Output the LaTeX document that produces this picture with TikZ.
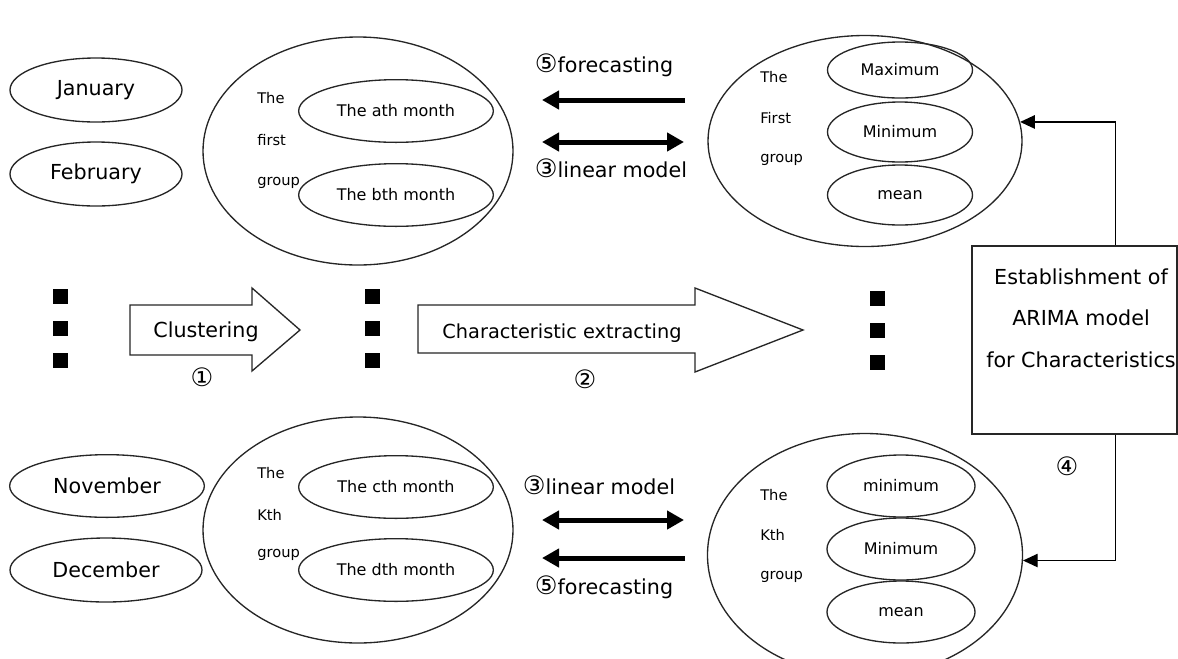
\documentclass[tikz,border=0pt]{standalone}
\usepackage{fontspec}
\setmainfont{DejaVu Sans}
\usetikzlibrary{shapes.geometric,arrows.meta,calc}
\newcommand{\circnum}[1]{{\fontsize{19}{18}\selectfont #1}}
\begin{document}
\begin{tikzpicture}[x=0.75pt,y=-0.75pt,
  oval/.style={ellipse,draw=black!85,line width=1pt,inner sep=0pt},
  month/.style={oval,font=\fontsize{15.5}{18}\selectfont},
  inner/.style={oval,font=\fontsize{12}{14}\selectfont},
  small/.style={font=\fontsize{11}{13}\selectfont,anchor=west,inner sep=0pt},
  lab/.style={font=\fontsize{15.5}{18}\selectfont,inner sep=0pt},
  num/.style={font=\fontsize{19}{18}\selectfont,inner sep=0pt},
  dot/.style={fill=black,minimum size=11.25pt,inner sep=0pt},
  bigarrow/.style={draw=black!85,line width=1pt,fill=white},
  fat/.style={line width=3.75pt,-{Triangle[length=12.75pt,width=13.5pt]}},
  fatboth/.style={line width=3.75pt,{Triangle[length=12.75pt,width=13.5pt]}-{Triangle[length=12.75pt,width=13.5pt]}},
  conn/.style={line width=1pt,-{Triangle[length=11pt,width=10pt]}}
]
\useasboundingbox (0,0) rectangle (1178,658);

% months
\node[month,minimum width=129pt,minimum height=48pt] (jan) at (96,90) {January};
\node[month,minimum width=129pt,minimum height=48pt] (feb) at (96,174) {February};
\node[month,minimum width=146pt,minimum height=47pt] (nov) at (107,486) {November};
\node[month,minimum width=144pt,minimum height=48pt] (dec) at (106,570) {December};

% dots
\node[dot] (la) at (60,296) {};
\node[dot] (lb) at (60,328) {};
\node[dot] (lc) at (60,360) {};
\node[dot] (ma) at (372,296) {};
\node[dot] (mb) at (372,328) {};
\node[dot] (mc) at (372,360) {};
\node[dot] (ra) at (877,298) {};
\node[dot] (rb) at (877,330) {};
\node[dot] (rc) at (877,362) {};

% groups (left)
\node[oval,minimum width=232.5pt,minimum height=171pt] (G1) at (358,151) {};
\node[oval,minimum width=232.5pt,minimum height=169.5pt] (G2) at (358,530) {};
\node[inner,minimum width=146pt,minimum height=47pt] (ath) at (396,111) {The ath month};
\node[inner,minimum width=146pt,minimum height=47pt] (bth) at (396,195) {The bth month};
\node[inner,minimum width=146pt,minimum height=47pt] (cth) at (396,487) {The cth month};
\node[inner,minimum width=146pt,minimum height=47pt] (dth) at (396,570) {The dth month};
\node[small] (g1a) at (257,98) {The};
\node[small] (g1b) at (257,140) {first};
\node[small] (g1c) at (257,183) {group};
\node[small] (g2a) at (257,473) {The};
\node[small] (g2b) at (257,515) {Kth};
\node[small] (g2c) at (257,555) {group};

% groups (right)
\node[oval,minimum width=235.5pt,minimum height=158.25pt] (R1) at (865,141) {};
\node[oval,minimum width=236.25pt,minimum height=182.25pt] (R2) at (865,555) {};
\node[inner,minimum width=108.75pt,minimum height=42pt] (max1) at (900,70) {Maximum};
\node[inner,minimum width=108.75pt,minimum height=45pt] (min1) at (900,132) {Minimum};
\node[inner,minimum width=108.75pt,minimum height=45pt] (mean1) at (900,195) {mean};
\node[inner,minimum width=111pt,minimum height=46.5pt] (min2) at (901,486) {minimum};
\node[inner,minimum width=111pt,minimum height=46.5pt] (min3) at (901,549) {Minimum};
\node[inner,minimum width=111pt,minimum height=46.5pt] (mean2) at (901,612) {mean};
\node[small] (r1a) at (760,77) {The};
\node[small] (r1b) at (760,118) {First};
\node[small] (r1c) at (760,160) {group};
\node[small] (r2a) at (760,495) {The};
\node[small] (r2b) at (760,535) {Kth};
\node[small] (r2c) at (760,577) {group};

% block arrows
\draw[bigarrow] (130,305) -- (252,305) -- (252,288) -- (300,330) -- (252,371) -- (252,355) -- (130,355) -- cycle;
\node[lab] (clu) at (206,332) {Clustering};
\draw[bigarrow] (418,305) -- (695,305) -- (695,288) -- (803,330) -- (695,372) -- (695,353) -- (418,353) -- cycle;
\node[lab,font=\fontsize{14.5}{17}\selectfont] (cha) at (562,333) {Characteristic extracting};
\node[num] (n1) at (202,377) {①};
\node[num] (n2) at (585,379) {②};

% box
\node[draw=black!85,line width=1pt,minimum width=153.75pt,minimum height=141pt,inner sep=0pt] (box) at (1074.5,340) {};
\node[lab,align=center,font=\fontsize{15.5}{31}\selectfont] (boxt) at (1081,318) {Establishment of\\ARIMA model\\for Characteristics};
\node[num] (n4) at (1067,466) {④};
\draw[conn] ($(box.north west)!0.7!(box.north east)$) |- (R1.7);
\draw[conn] ($(box.south west)!0.7!(box.south east)$) |- (R2.-2);

% thick arrows top
\node[lab] (fc1) at (604,65) {\circnum{⑤}forecasting};
\node[lab] (lm1) at (611,168) {\circnum{③}linear model};
\coordinate (t1s) at (685,100);
\coordinate (t1e) at (542,100);
\coordinate (t2a) at (542,142);
\coordinate (t2b) at (684,142);
\draw[fat] (t1s) -- (t1e);
\draw[fatboth] (t2a) -- (t2b);

% thick arrows bottom
\node[lab] (lm2) at (599,485) {\circnum{③}linear model};
\node[lab] (fc2) at (604,587) {\circnum{⑤}forecasting};
\coordinate (b1a) at (542,520);
\coordinate (b1b) at (684,520);
\coordinate (b2s) at (685,558);
\coordinate (b2e) at (542,558);
\draw[fatboth] (b1a) -- (b1b);
\draw[fat] (b2s) -- (b2e);
\end{tikzpicture}
\end{document}
